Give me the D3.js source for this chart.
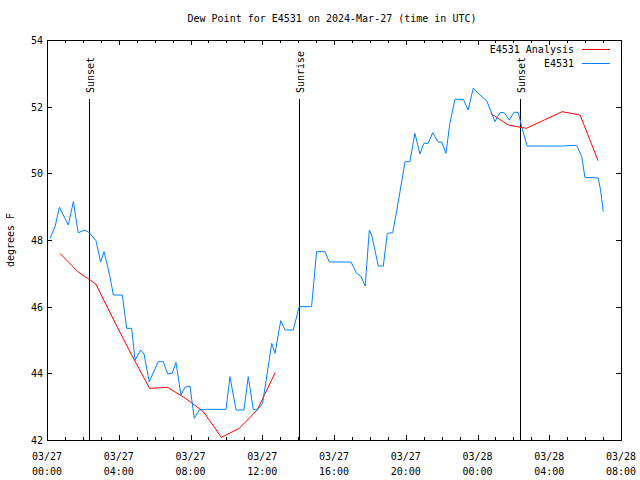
<!DOCTYPE html>
<html><head><meta charset="utf-8">
<script src="https://cdn.jsdelivr.net/npm/d3@7"></script>
<style>body{margin:0;background:#fff}svg{display:block}text{font-family:"DejaVu Sans Mono",monospace;font-size:10px;fill:#000}</style>
</head><body><svg id="c" width="640" height="480"></svg>
<script>
// ---- data (hours since 2024-03-27 00:00 UTC) ----
const obsHours = [0.17,0.45,0.69,1.19,1.47,1.74,2.12,2.36,2.73,2.99,3.18,3.51,3.70,4.20,4.44,4.72,4.91,5.22,5.41,5.70,6.20,6.48,6.73,6.98,7.19,7.47,7.69,7.97,8.21,8.49,8.90,9.64,9.98,10.20,10.54,10.98,11.22,11.50,11.72,12.02,12.53,12.71,13.03,13.27,13.73,14.06,14.75,15.03,15.50,15.74,16.95,17.26,17.49,17.74,17.97,18.10,18.47,18.75,18.97,19.27,19.49,19.96,20.23,20.51,20.79,21.01,21.25,21.50,21.81,22.00,22.24,22.46,22.74,23.21,23.48,23.76,24.14,24.51,24.79,24.97,25.25,25.49,25.77,26.03,26.27,26.46,26.77,27.66,28.69,29.53,29.81,29.99,30.73,30.86,31.01];
const obsValues = [48.05,48.4,48.98,48.45,49.15,48.22,48.3,48.22,47.98,47.34,47.65,46.9,46.35,46.35,45.35,45.35,44.4,44.7,44.58,43.75,44.35,44.35,43.98,44.0,44.33,43.35,43.58,43.62,42.65,42.9,42.92,42.92,42.92,43.9,42.9,42.9,43.9,42.92,42.9,43.1,44.9,44.6,45.58,45.3,45.3,46.0,46.0,47.65,47.65,47.34,47.34,47.0,46.92,46.62,48.3,48.15,47.22,47.22,48.2,48.22,48.85,50.35,50.35,51.2,50.58,50.9,50.9,51.22,50.94,50.94,50.6,51.5,52.22,52.22,51.9,52.55,52.35,52.18,51.8,51.55,51.82,51.82,51.6,51.83,51.83,51.4,50.82,50.82,50.82,50.84,50.5,49.88,49.86,49.5,48.85];
const anaHours1 = [0.72,1.72,2.72,3.72,4.72,5.72,6.72,7.72,8.72,9.72,10.72,11.72,12.72];
const anaValues1 = [47.6,47.05,46.68,45.6,44.55,43.55,43.58,43.25,42.85,42.08,42.35,42.9,44.02];
const anaHours2 = [24.72,25.72,26.72,27.72,28.72,29.72,30.72];
const anaValues2 = [51.8,51.45,51.35,51.6,51.85,51.75,50.38];
const sunEvents = [{h:2.36,label:"Sunset"},{h:14.05,label:"Sunrise"},{h:26.37,label:"Sunset"}];
const xTickHours = [0,4,8,12,16,20,24,28,32];
const xTickDates = ["03/27","03/27","03/27","03/27","03/27","03/27","03/28","03/28","03/28"];
const xTickTimes = ["00:00","04:00","08:00","12:00","16:00","20:00","00:00","04:00","08:00"];
const yTicks = [42,44,46,48,50,52,54];
const seriesNames = ["E4531 Analysis","E4531"];
const seriesColors = ["#ff0000","#0080ff"];

const L=47,R=621,T=40,B=440;
const svg=d3.select("#c");
const x=d3.scaleLinear().domain([0,32]).range([L,R]);
const y=d3.scaleLinear().domain([42,54]).range([B,T]);

svg.append("text").attr("x",332).attr("y",22).attr("text-anchor","middle").text("Dew Point for E4531 on 2024-Mar-27 (time in UTC)");

// axes
const minor=d3.range(0,33);
const g=svg.append("g").attr("stroke","#000").attr("stroke-width",1).attr("shape-rendering","crispEdges");
minor.forEach(h=>{const len=h%4===0?5:3;const xx=Math.round(x(h))+0.5;
  g.append("line").attr("x1",xx).attr("x2",xx).attr("y1",B).attr("y2",B-len);
  g.append("line").attr("x1",xx).attr("x2",xx).attr("y1",T).attr("y2",T+len);});
yTicks.forEach(v=>{const yy=Math.round(y(v))+0.5;
  g.append("line").attr("x1",L).attr("x2",L+5).attr("y1",yy).attr("y2",yy);
  g.append("line").attr("x1",R).attr("x2",R-5).attr("y1",yy).attr("y2",yy);});
svg.append("rect").attr("x",L+0.5).attr("y",T+0.5).attr("width",R-L).attr("height",B-T).attr("fill","none").attr("stroke","#000").attr("shape-rendering","crispEdges");

yTicks.forEach(v=>svg.append("text").attr("x",43).attr("y",y(v)+4).attr("text-anchor","end").text(v));
xTickHours.forEach((h,i)=>{
  svg.append("text").attr("x",x(h)).attr("y",460).attr("text-anchor","middle").text(xTickDates[i]);
  svg.append("text").attr("x",x(h)).attr("y",475).attr("text-anchor","middle").text(xTickTimes[i]);});
svg.append("text").attr("transform","translate(14,240) rotate(-90)").attr("text-anchor","middle").text("degrees F");

// sun events
sunEvents.forEach(e=>{const xx=Math.round(x(e.h))+0.5;
  svg.append("line").attr("x1",xx).attr("x2",xx).attr("y1",99).attr("y2",B).attr("stroke","#000").attr("shape-rendering","crispEdges");
  svg.append("text").attr("transform",`translate(${xx+4},93) rotate(-90)`).text(e.label);});

const line=d3.line().x(d=>x(d[0])).y(d=>y(d[1]));
const pts=(hs,vs)=>hs.map((h,i)=>[h,vs[i]]);
svg.append("path").attr("d",line(pts(anaHours1,anaValues1))).attr("fill","none").attr("stroke",seriesColors[0]);
svg.append("path").attr("d",line(pts(anaHours2,anaValues2))).attr("fill","none").attr("stroke",seriesColors[0]);
svg.append("path").attr("d",line(pts(obsHours,obsValues))).attr("fill","none").attr("stroke",seriesColors[1]);

// legend
seriesNames.forEach((n,i)=>{const yy=49+i*14;
  svg.append("text").attr("x",574).attr("y",yy+4).attr("text-anchor","end").text(n);
  svg.append("line").attr("x1",582).attr("x2",610).attr("y1",yy+0.5).attr("y2",yy+0.5).attr("stroke",seriesColors[i]).attr("shape-rendering","crispEdges");});
</script></body></html>
